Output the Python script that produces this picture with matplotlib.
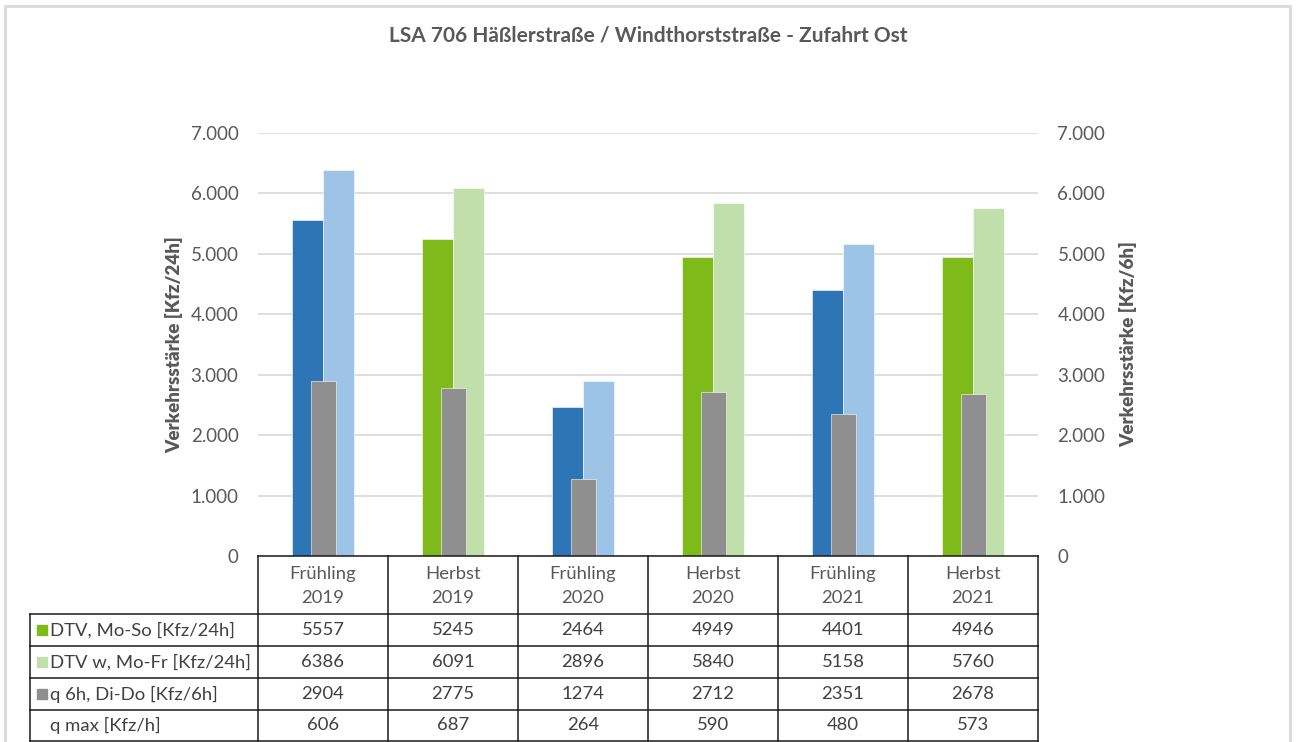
import matplotlib.pyplot as plt
import numpy as np

plt.rcParams['font.family'] = ['Lato', 'DejaVu Sans']

# data
seasons = ["Frühling\n2019", "Herbst\n2019", "Frühling\n2020",
           "Herbst\n2020", "Frühling\n2021", "Herbst\n2021"]
dtv = [5557, 5245, 2464, 4949, 4401, 4946]
dtv_w = [6386, 6091, 2896, 5840, 5158, 5760]
q6h = [2904, 2775, 1274, 2712, 2351, 2678]
qmax = [606, 687, 264, 590, 480, 573]
row_labels = ["DTV, Mo-So [Kfz/24h]", "DTV w, Mo-Fr [Kfz/24h]",
              "q 6h, Di-Do [Kfz/6h]", "q max [Kfz/h]"]
yticks = [0, 1000, 2000, 3000, 4000, 5000, 6000, 7000]

DARK_BLUE = "#2E75B6"
LIGHT_BLUE = "#9DC3E6"
GREEN = "#7FBA1B"
LIGHT_GREEN = "#C0DFAA"
GREY = "#8F8F8F"
TXT = "#595959"

W, H = 1296, 742
fig = plt.figure(figsize=(W / 100, H / 100), dpi=100)

# outer chart frame
frame = plt.Rectangle((5 / W, -0.01), (1290 - 5) / W, (H - 6) / H + 0.01,
                      transform=fig.transFigure, fill=False,
                      edgecolor="#D9D9D9", linewidth=2)
fig.add_artist(frame)

# plot area in pixels
x0, x1, ytop, ybot = 258, 1038, 133, 556
ax = fig.add_axes([x0 / W, (H - ybot) / H, (x1 - x0) / W, (ybot - ytop) / H])
ax2 = ax.twinx()

x = np.arange(len(seasons))
spring = np.array(["Frühling" in s for s in seasons])
c1 = [DARK_BLUE if s else GREEN for s in spring]
c2 = [LIGHT_BLUE if s else LIGHT_GREEN for s in spring]

bw = 0.238
ax.bar(x - bw / 2, dtv, width=bw, color=c1, edgecolor="white", linewidth=0.4, zorder=2)
ax.bar(x + bw / 2, dtv_w, width=bw, color=c2, edgecolor="white", linewidth=0.4, zorder=2)
ax2.bar(x + 0.005, q6h, width=0.19, color=GREY, edgecolor="white", linewidth=0.4, zorder=3)

for a in (ax, ax2):
    a.set_xlim(-0.5, len(seasons) - 0.5)
    a.set_ylim(0, 7000)
    a.set_yticks(yticks)
    a.set_yticklabels([f"{v:,}".replace(",", ".") for v in yticks],
                      fontsize=13.5, color=TXT)
    a.tick_params(axis="y", length=0, pad=14)
    a.set_xticks([])
    for s in a.spines.values():
        s.set_visible(False)
ax.grid(axis="y", color="#D9D9D9", linewidth=1.2, zorder=0)
ax.set_axisbelow(True)

ax.set_ylabel("Verkehrsstärke [Kfz/24h]", fontsize=13.5, fontweight="heavy",
              color=TXT, labelpad=5)
ax2.set_ylabel("Verkehrsstärke [Kfz/6h]", fontsize=13.5, fontweight="heavy",
               color=TXT, labelpad=10)

fig.text(0.5, (H - 35) / H, "LSA 706 Häßlerstraße / Windthorststraße - Zufahrt Ost",
         ha="center", va="center", fontsize=15, fontweight="bold", color=TXT)

# data table drawn in pixel coordinates
tab = fig.add_axes([0, 0, 1, 1])
tab.set_xlim(0, W)
tab.set_ylim(H, 0)
tab.axis("off")

tx0 = 30
colw = (x1 - x0) / len(seasons)
row_edges = [ybot, 614, 646, 678, 710, 741]
lc = "#1A1A1A"
lw = 1.1

# horizontal lines
tab.plot([x0, x1], [ybot, ybot], color=lc, lw=lw)
for y in row_edges[1:]:
    tab.plot([tx0, x1], [y, y], color=lc, lw=lw)
# vertical lines
tab.plot([tx0, tx0], [row_edges[1], row_edges[-1]], color=lc, lw=lw)
for i in range(len(seasons) + 1):
    xx = x0 + i * colw
    tab.plot([xx, xx], [ybot, row_edges[-1]], color=lc, lw=lw)

TTXT = "#404040"
for i, s in enumerate(seasons):
    cx = x0 + (i + 0.5) * colw
    tab.text(cx, (row_edges[0] + row_edges[1]) / 2 + 1, s, ha="center", va="center",
             fontsize=13.3, color=TXT, linespacing=1.6)

rows = [dtv, dtv_w, q6h, qmax]
swatches = [GREEN, LIGHT_GREEN, GREY, None]
for r, (lab, vals, sw) in enumerate(zip(row_labels, rows, swatches)):
    cy = (row_edges[r + 1] + row_edges[r + 2]) / 2
    if sw:
        tab.add_patch(plt.Rectangle((37, cy - 5), 10, 10, color=sw))
    tab.text(50, cy, lab, ha="left", va="center", fontsize=13.3, color=TTXT)
    for i, v in enumerate(vals):
        tab.text(x0 + (i + 0.5) * colw, cy, str(v), ha="center", va="center",
                 fontsize=13.3, color=TTXT)

fig.savefig("out.png", dpi=100)
